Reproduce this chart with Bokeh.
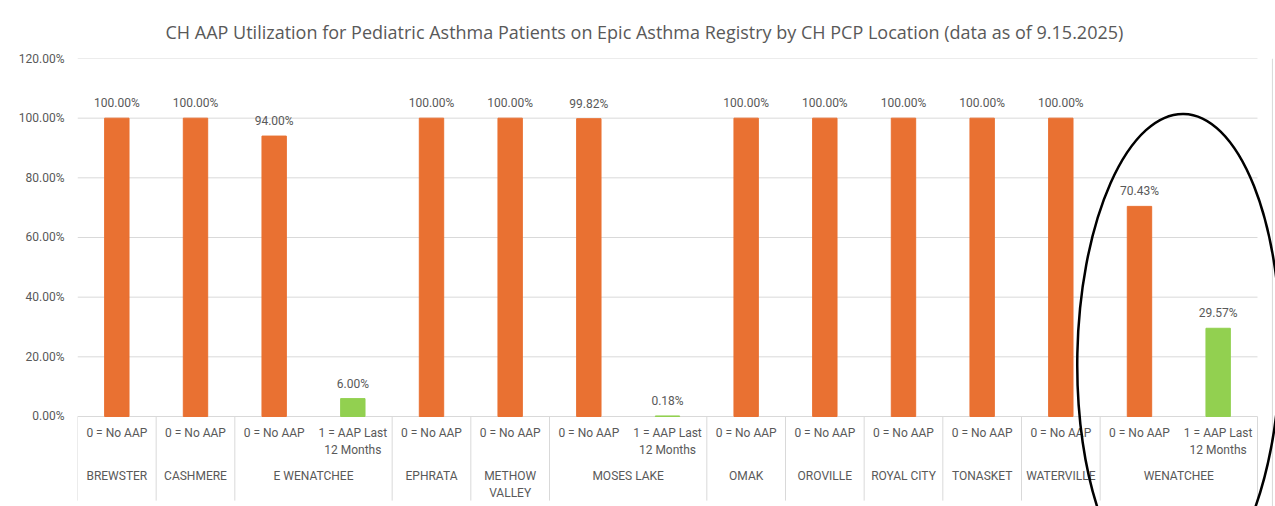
from bokeh.plotting import figure
from bokeh.models import Range1d, FixedTicker, ColumnDataSource, NumeralTickFormatter
from bokeh.embed import file_html
from bokeh.resources import INLINE
from bokeh.core.properties import value

# ---------------- data ----------------
TITLE = ("CH AAP Utilization for Pediatric Asthma Patients on Epic Asthma Registry "
         "by CH PCP Location (data as of 9.15.2025)")
locations = ["BREWSTER", "CASHMERE", "E WENATCHEE", "E WENATCHEE", "EPHRATA",
             "METHOW\nVALLEY", "MOSES LAKE", "MOSES LAKE", "OMAK", "OROVILLE",
             "ROYAL CITY", "TONASKET", "WATERVILLE", "WENATCHEE", "WENATCHEE"]
categories = ["0 = No AAP", "0 = No AAP", "0 = No AAP", "1 = AAP Last\n12 Months",
              "0 = No AAP", "0 = No AAP", "0 = No AAP", "1 = AAP Last\n12 Months",
              "0 = No AAP", "0 = No AAP", "0 = No AAP", "0 = No AAP", "0 = No AAP",
              "0 = No AAP", "1 = AAP Last\n12 Months"]
values = [1.0, 1.0, 0.94, 0.06, 1.0, 1.0, 0.9982, 0.0018, 1.0, 1.0, 1.0, 1.0, 1.0,
          0.7043, 0.2957]
y_ticks = [0.0, 0.2, 0.4, 0.6, 0.8, 1.0, 1.2]
highlight_group = "WENATCHEE"

# ---------------- style ----------------
FONT = "Roboto"
TITLE_FONT = "Open Sans"
GRAY = "#595959"
GRID = "#d9d9d9"
ORANGE = "#E97132"
GREEN = "#92D050"
FS = "12px"

n = len(values)
xpos = [i + 0.5 for i in range(n)]          # one slot per (location, category)
colors = [ORANGE if c.startswith("0") else GREEN for c in categories]
labels = [f"{v * 100:.2f}%" for v in values]

src = ColumnDataSource(dict(x=xpos, top=values, color=colors, label=labels,
                            cat=categories, base=[0.0] * n))

# group extents
groups = []
for i, loc in enumerate(locations):
    if groups and groups[-1][0] == loc:
        groups[-1][2] = i + 1
    else:
        groups.append([loc, i, i + 1])
group_centers = [(a + b) / 2 for _, a, b in groups]
group_names = [g[0] for g in groups]
bounds = sorted(set([g[1] for g in groups] + [g[2] for g in groups]))

p = figure(width=1275, height=506,
           x_range=Range1d(0, n + 0.229),
           y_range=Range1d(-0.3017, 1.2),
           output_backend="svg", toolbar_location=None,
           min_border_left=77, min_border_right=0, min_border_top=58,
           min_border_bottom=0, outline_line_color=None)

p.title.text = TITLE
p.title.align = "left"
p.title.offset = 88
p.title.text_font = TITLE_FONT
p.title.text_font_size = "18px"
p.title.text_font_style = "normal"
p.title.text_color = GRAY
p.title.standoff = 30

p.xaxis.visible = False
p.xgrid.visible = False
p.ygrid.visible = False
p.yaxis.ticker = FixedTicker(ticks=y_ticks)
p.yaxis.formatter = NumeralTickFormatter(format="0.00%")
p.yaxis.axis_line_color = None
p.yaxis.major_tick_line_color = None
p.yaxis.minor_tick_line_color = None
p.yaxis.major_tick_out = 0
p.yaxis.major_tick_in = 0
p.yaxis.major_label_text_font = FONT
p.yaxis.major_label_text_font_size = FS
p.yaxis.major_label_text_color = GRAY
p.yaxis.major_label_standoff = 13

# horizontal gridlines across the category span only
p.segment(x0=[0] * len(y_ticks), y0=y_ticks, x1=[n] * len(y_ticks), y1=y_ticks,
          line_color=GRID, line_width=1)

# separators under the axis
p.segment(x0=bounds, y0=[0] * len(bounds), x1=bounds, y1=[-0.282] * len(bounds),
          line_color=GRID, line_width=1)

# right edge of the chart-area border
p.segment(x0=[n + 0.19], y0=[1.2], x1=[n + 0.19], y1=[-0.31],
          line_color=GRID, line_width=1)

p.vbar(x="x", top="top", width=0.31, color="color", source=src)

p.text(x="x", y="top", text="label", source=src, y_offset=-15,
       text_align="center", text_baseline="middle", text_color=GRAY,
       text_font=value(FONT), text_font_size=FS)

p.text(x="x", y="base", text="cat", source=src, y_offset=10,
       text_align="center", text_baseline="top", text_color=GRAY,
       text_font=value(FONT), text_font_size=FS, text_line_height=1.15)

p.text(x=group_centers, y=[0] * len(group_centers), text=group_names, y_offset=53,
       text_align="center", text_baseline="top", text_color=GRAY,
       text_font=value(FONT), text_font_size=FS, text_line_height=1.15)

# hand-drawn highlight ellipse around one group
hc = group_centers[group_names.index(highlight_group)]
p.ellipse(x=[hc], y=[0.2045], width=[2.58], height=[1.62], angle=-0.02,
          fill_color=None, line_color="black", line_width=2.5)

open("out.html", "w").write(file_html(p, INLINE))
